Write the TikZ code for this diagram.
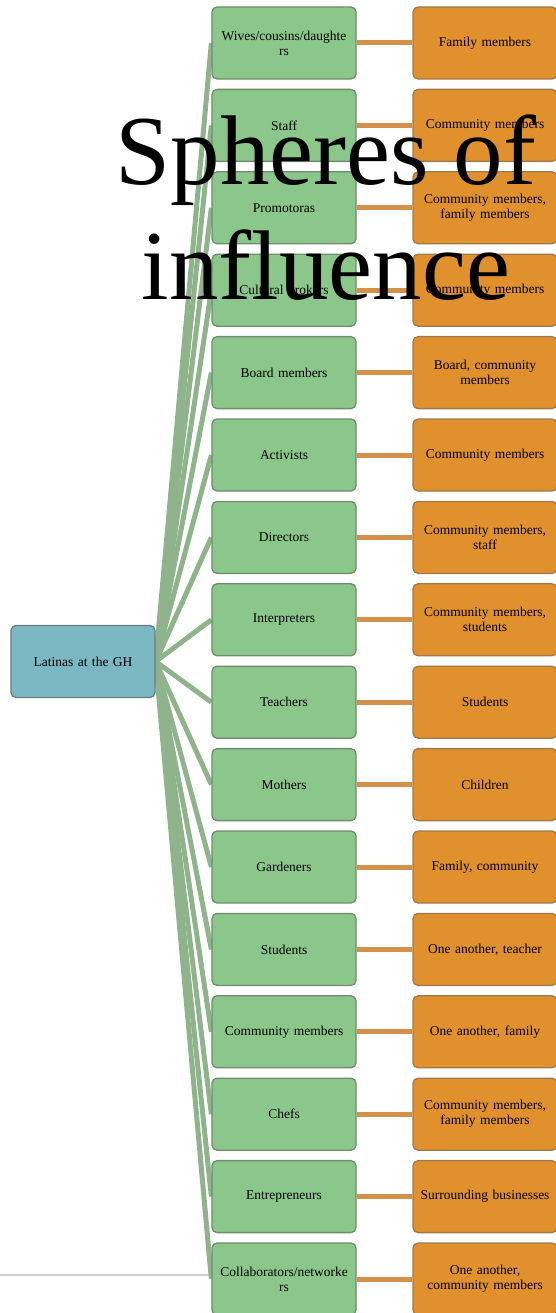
\documentclass[tikz,border=0pt]{standalone}
\usepackage{fontspec}
\setmainfont{Liberation Serif}
\definecolor{rolegreen}{RGB}{139,199,138}
\definecolor{reachorange}{RGB}{224,145,46}
\definecolor{rootteal}{RGB}{124,184,195}
\definecolor{linkgreen}{RGB}{143,180,140}
\definecolor{linkorange}{RGB}{212,145,74}
\definecolor{slidegray}{RGB}{205,206,214}
\usetikzlibrary{positioning}
\pgfdeclarelayer{background}
\pgfsetlayers{background,main}

\begin{document}
\begin{tikzpicture}[x=1pt, y=-1pt,
  box/.style={rounded corners=5pt, line width=1.3pt, minimum width=144pt, minimum height=72pt,
    text width=140pt, align=center, inner sep=2pt, font=\fontsize{13.5}{15}\selectfont},
  rolebox/.style={box, draw=rolegreen!55!black!80, fill=rolegreen},
  reachbox/.style={box, draw=reachorange!60!black!80, fill=reachorange},
  rootbox/.style={box, draw=rootteal!50!black!80, fill=rootteal},
  rootlink/.style={draw=linkgreen, line width=5pt},
  reachlink/.style={draw=linkorange, line width=5pt}]
  \useasboundingbox (0,0) rectangle (555,1313);

  % Slide rule
  \begin{pgfonlayer}{background}
    \draw[slidegray, line width=2pt] (0,1275) -- (210,1275);
  \end{pgfonlayer}

  % Root
  \node[rootbox] (root) at (83,661.5) {Latinas at the GH};

  % Roles and who they reach
  \foreach \i/\role/\reach in {
      1/{Wives/cousins/daughte\\rs}/{Family members},
      2/{Staff}/{Community members},
      3/{Promotoras}/{Community members,\\family members},
      4/{Cultural brokers}/{Community members},
      5/{Board members}/{Board, community\\members},
      6/{Activists}/{Community members},
      7/{Directors}/{Community members,\\staff},
      8/{Interpreters}/{Community members,\\students},
      9/{Teachers}/{Students},
      10/{Mothers}/{Children},
      11/{Gardeners}/{Family, community},
      12/{Students}/{One another, teacher},
      13/{Community members}/{One another, family},
      14/{Chefs}/{Community members,\\family members},
      15/{Entrepreneurs}/{Surrounding businesses},
      16/{Collaborators/networke\\rs}/{One another,\\community members}} {
    \node[rolebox] (role\i) at (284,{43+82.4*(\i-1)}) {\role};
    \node[reachbox] (reach\i) at (485,{43+82.4*(\i-1)}) {\reach};
    \begin{pgfonlayer}{background}
      \draw[rootlink] (root.east) -- (role\i.west);
      \draw[reachlink] (role\i.east) -- (reach\i.west);
    \end{pgfonlayer}
  }

  % Title
  \node[align=center, inner sep=0pt, font=\fontsize{99}{115}\selectfont] (title) at (326,208)
    {Spheres of\\influence};
\end{tikzpicture}
\end{document}
